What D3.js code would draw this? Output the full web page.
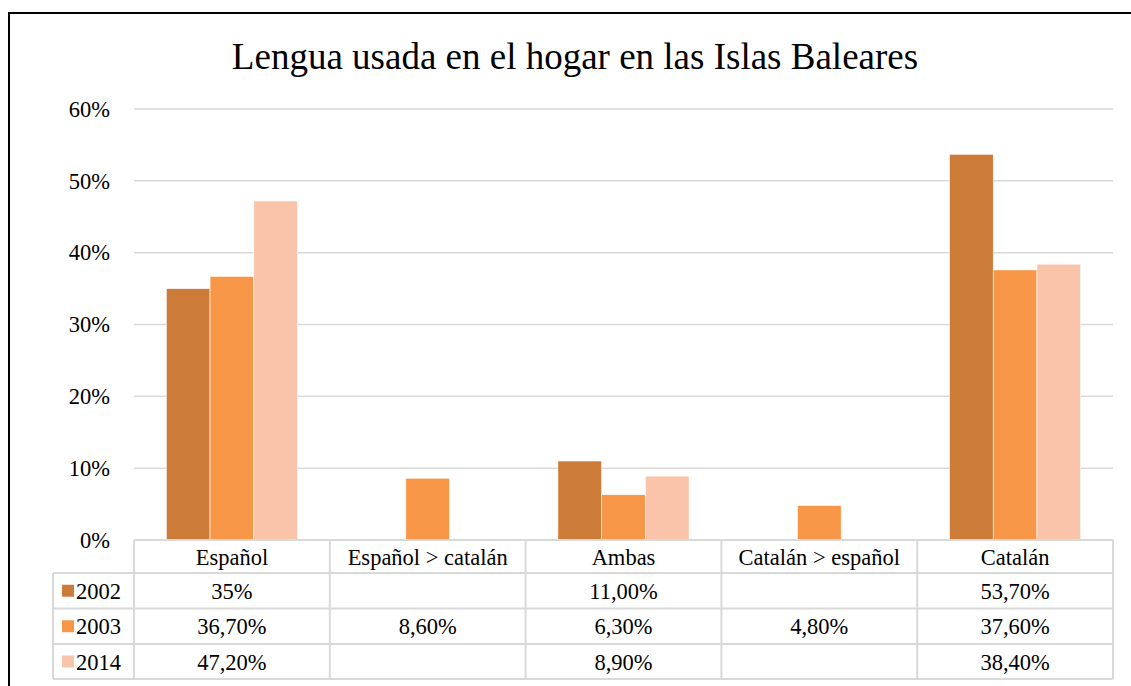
<!DOCTYPE html>
<html>
<head>
<meta charset="utf-8">
<script src="https://cdn.jsdelivr.net/npm/d3@7"></script>
<style>
  body { margin: 0; background: #fff; }
  svg text { font-family: "Liberation Serif", "Times New Roman", serif; fill: #000; }
</style>
</head>
<body>
<div class="graph"></div>
<script>
// data
var categories = ["Español", "Español > catalán", "Ambas", "Catalán > español", "Catalán"];
var years = ["2002", "2003", "2014"];
var values2002 = [35, null, 11.0, null, 53.7];
var values2003 = [36.7, 8.6, 6.3, 4.8, 37.6];
var values2014 = [47.2, null, 8.9, null, 38.4];
var labels2002 = ["35%", "", "11,00%", "", "53,70%"];
var labels2003 = ["36,70%", "8,60%", "6,30%", "4,80%", "37,60%"];
var labels2014 = ["47,20%", "", "8,90%", "", "38,40%"];
var yTicks = [0, 10, 20, 30, 40, 50, 60];
var colors = ["#cc7b38", "#f79646", "#fac4aa"];

var series = [
  {year: years[0], values: values2002, labels: labels2002, color: colors[0]},
  {year: years[1], values: values2003, labels: labels2003, color: colors[1]},
  {year: years[2], values: values2014, labels: labels2014, color: colors[2]}
];

var w = 1131, h = 686;
var plotLeft = 134, plotRight = 1113, plotTop = 109, plotBottom = 540;
var rowEdges = [540, 573, 608.5, 644, 679];
var legLeft = 53;
var fs = "22.5px";

var svg = d3.select("div.graph").append("svg")
  .attr("width", w).attr("height", h);

// outer frame (goes past the right/bottom edge)
svg.append("rect")
  .attr("x", 9).attr("y", 13).attr("width", 1140).attr("height", 700)
  .attr("fill", "none").attr("stroke", "#000").attr("stroke-width", 2);

svg.append("text")
  .attr("x", 575).attr("y", 69)
  .attr("text-anchor", "middle")
  .style("font-size", "37px")
  .text("Lengua usada en el hogar en las Islas Baleares");

var y = d3.scaleLinear().domain([0, 60]).range([plotBottom, plotTop]);
var x0 = d3.scaleBand().domain(categories).range([plotLeft, plotRight])
  .paddingInner(0.33).paddingOuter(0.165);
var x1 = d3.scaleBand().domain(years).range([0, x0.bandwidth()]);

// gridlines
svg.append("g").selectAll("line")
  .data(yTicks.slice(1))
  .enter().append("line")
  .attr("x1", plotLeft).attr("x2", plotRight)
  .attr("y1", function(d) { return y(d); })
  .attr("y2", function(d) { return y(d); })
  .attr("stroke", "#d9d9d9").attr("stroke-width", 1.5);

// y axis labels
var yAxis = d3.axisLeft(y).tickValues(yTicks)
  .tickFormat(function(d) { return d + "%"; })
  .tickSize(0).tickPadding(0);
var ya = svg.append("g").attr("transform", "translate(110,0)").call(yAxis);
ya.select(".domain").remove();
ya.selectAll("text")
  .style("font-size", fs)
  .style("font-family", "'Liberation Serif', 'Times New Roman', serif")
  .attr("dy", "0.32em");

// bars
series.forEach(function(s) {
  svg.append("g").selectAll("rect")
    .data(s.values.map(function(v, i) { return {cat: categories[i], v: v}; })
      .filter(function(d) { return d.v != null; }))
    .enter().append("rect")
    .attr("x", function(d) { return x0(d.cat) + x1(s.year); })
    .attr("y", function(d) { return y(d.v); })
    .attr("width", x1.bandwidth())
    .attr("height", function(d) { return y(0) - y(d.v); })
    .attr("fill", s.color)
    .attr("stroke", "#fff").attr("stroke-width", 0.6);
});

// data table
var grid = svg.append("g").attr("stroke", "#d9d9d9").attr("stroke-width", 2).attr("fill", "none");
var colEdges = categories.map(function(c) { return x0(c) - x0.step() * 0.165; });
colEdges.push(plotRight);
colEdges[0] = plotLeft;
rowEdges.forEach(function(ry, i) {
  grid.append("line")
    .attr("x1", i === 0 ? plotLeft : legLeft).attr("x2", plotRight)
    .attr("y1", ry).attr("y2", ry);
});
colEdges.forEach(function(cx) {
  grid.append("line").attr("x1", cx).attr("x2", cx)
    .attr("y1", rowEdges[0]).attr("y2", rowEdges[4]);
});
grid.append("line").attr("x1", legLeft).attr("x2", legLeft)
  .attr("y1", rowEdges[1]).attr("y2", rowEdges[4]);

// header labels
svg.append("g").selectAll("text")
  .data(categories).enter().append("text")
  .attr("x", function(d) { return x0(d) + x0.bandwidth() / 2; })
  .attr("y", (rowEdges[0] + rowEdges[1]) / 2 + 8)
  .attr("text-anchor", "middle")
  .style("font-size", fs)
  .text(function(d) { return d; });

// rows
series.forEach(function(s, r) {
  var cy = (rowEdges[r + 1] + rowEdges[r + 2]) / 2;
  svg.append("rect")
    .attr("x", 62).attr("y", cy - 6).attr("width", 12).attr("height", 12)
    .attr("fill", s.color);
  svg.append("text")
    .attr("x", 76).attr("y", cy + 8)
    .style("font-size", fs)
    .text(s.year);
  svg.append("g").selectAll("text")
    .data(s.labels).enter().append("text")
    .attr("x", function(d, i) { return x0(categories[i]) + x0.bandwidth() / 2; })
    .attr("y", cy + 8)
    .attr("text-anchor", "middle")
    .style("font-size", fs)
    .text(function(d) { return d; });
});
</script>
</body>
</html>
